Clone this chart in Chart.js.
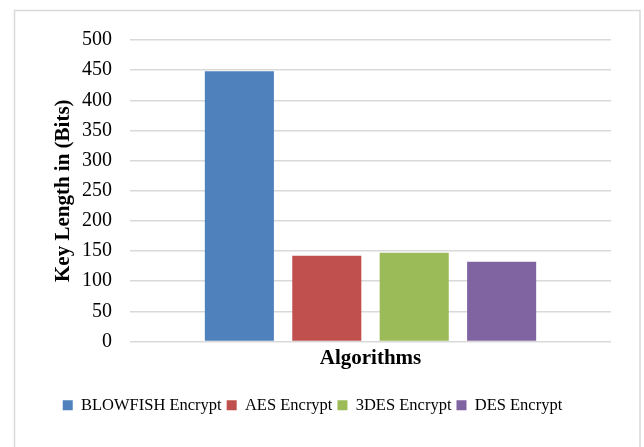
<!DOCTYPE html>
<html>
<head>
<meta charset="utf-8">
<script src="https://cdn.jsdelivr.net/npm/chart.js@4"></script>
<style>
  body { margin: 0; background: #fff; }
  #wrap { width: 644px; height: 447px; }
</style>
</head>
<body>
<div id="wrap"><canvas id="myChart" width="644" height="447"></canvas></div>
<script>
// values
const algorithms = ["BLOWFISH Encrypt", "AES Encrypt", "3DES Encrypt", "DES Encrypt"];
const keyLengths = [448, 142, 147, 132];
const barColors = ["#4F81BD", "#C0504D", "#9BBB59", "#8064A2"];
const categories = [""];

// light grey frame round the whole chart
const frame = {
  id: "frame",
  beforeDraw(chart) {
    const ctx = chart.ctx;
    ctx.save();
    ctx.fillStyle = "#fff";
    ctx.fillRect(0, 0, chart.width, chart.height);
    ctx.strokeStyle = "#d9d9d9";
    ctx.lineWidth = 1.5;
    ctx.strokeRect(14.5, 10.5, 625.5, 450);
    ctx.restore();
  }
};

const data = {
  labels: categories,
  datasets: algorithms.map((name, i) => ({
    label: name,
    data: [keyLengths[i]],
    backgroundColor: barColors[i],
    categoryPercentage: 0.727,
    barPercentage: 0.79
  }))
};

const ctx = document.getElementById("myChart").getContext("2d");

const chart = new Chart(ctx, {
  type: "bar",
  data: data,
  plugins: [frame],
  options: {
    responsive: false,
    animation: false,
    layout: { padding: { left: 14, top: 40, right: 33, bottom: 23.5 } },
    plugins: {
      tooltip: { enabled: false },
      legend: {
        position: "bottom",
        labels: {
          boxWidth: 10,
          boxHeight: 10,
          padding: 5,
          color: "#000",
          font: { family: "Liberation Serif", size: 16.5 }
        }
      }
    },
    scales: {
      x: {
        grid: { display: false, drawTicks: false },
        border: { display: false },
        ticks: { display: false },
        title: {
          display: true,
          text: "Algorithms",
          color: "#000",
          font: { family: "Liberation Serif", size: 21, weight: "bold" },
          padding: { top: 4.4, bottom: 21 }
        }
      },
      y: {
        min: 0,
        max: 500,
        afterFit: scale => { scale.width = 116; },
        border: { display: false },
        grid: { color: "#d9d9d9", lineWidth: 1.5, drawTicks: false },
        ticks: {
          stepSize: 50,
          padding: 18,
          color: "#000",
          font: { family: "Liberation Serif", size: 20 }
        },
        title: {
          display: true,
          text: "Key Length in (Bits)",
          color: "#000",
          font: { family: "Liberation Serif", size: 21, weight: "bold" },
          padding: { top: 37, bottom: 0 }
        }
      }
    }
  }
});
</script>
</body>
</html>
